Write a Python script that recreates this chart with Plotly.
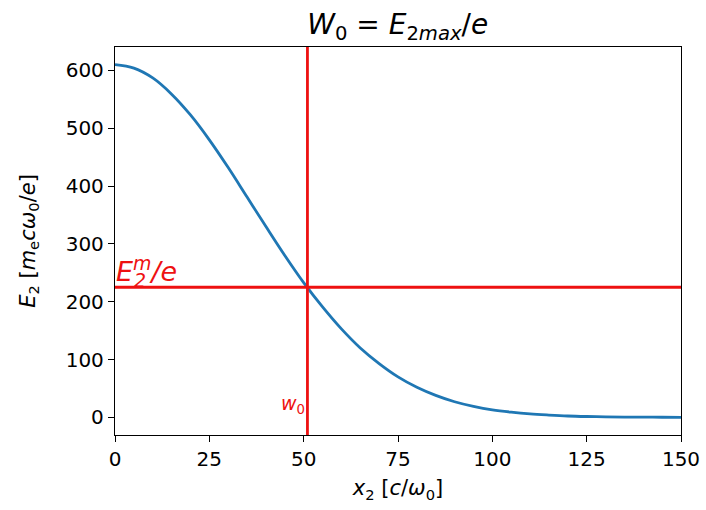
import plotly.graph_objects as go

x_vals = [0, 5, 10, 15, 20, 25, 30, 35, 40, 45, 50, 55, 60, 65, 70, 75, 80, 85, 90, 95,
          100, 105, 110, 115, 120, 125, 130, 135, 140, 145, 150]
e2_vals = [610, 604, 587, 559, 523, 480, 432, 381, 330, 280, 233, 191, 153, 120, 93, 70,
           52, 38, 27, 19, 13, 9, 6, 4, 2.4, 1.5, 0.9, 0.5, 0.3, 0.2, 0.1]
w0 = 51
e2m = 225
x_ticks = [0, 25, 50, 75, 100, 125, 150]
y_ticks = [0, 100, 200, 300, 400, 500, 600]

font = "DejaVu Sans"
red = "#ee1111"
fig = go.Figure()
fig.add_trace(go.Scatter(x=x_vals, y=e2_vals, mode="lines", line=dict(color="#1f77b4", width=2.8, shape="spline"),
                         showlegend=False, hoverinfo="skip"))
fig.add_trace(go.Scatter(x=[0, 150], y=[e2m, e2m], mode="lines", line=dict(color=red, width=2.8),
                         showlegend=False, hoverinfo="skip"))
fig.add_trace(go.Scatter(x=[w0, w0], y=[-30.5, 640.5], mode="lines", line=dict(color=red, width=2.8),
                         showlegend=False, hoverinfo="skip"))

# E_2^m / e label (superscript m and subscript 2 stacked)
fig.add_annotation(x=0, y=e2m, xref="x", yref="y", xanchor="left", yanchor="bottom", showarrow=False,
                   text="<i>E</i><sup><i>m</i></sup><i>/e</i>",
                   font=dict(family=font, size=27, color=red), xshift=-1, yshift=-2)
fig.add_annotation(x=0, y=e2m, xref="x", yref="y", xanchor="left", yanchor="bottom", showarrow=False,
                   text="<i>2</i>", font=dict(family=font, size=19, color=red), xshift=17, yshift=-6)
fig.add_annotation(x=w0, y=0, xref="x", yref="y", xanchor="right", yanchor="bottom", showarrow=False,
                   text="<i>w</i><sub>0</sub>", font=dict(family=font, size=19, color=red), xshift=0, yshift=-2)

axis_common = dict(showline=True, linecolor="black", linewidth=1.3, mirror=True, ticks="outside",
                   ticklen=6, tickwidth=1.3, tickcolor="black", showgrid=False, zeroline=False,
                   tickfont=dict(family=font, size=20, color="black"))
fig.update_xaxes(range=[0, 150], tickvals=x_ticks,
                 title=dict(text="<i>x</i><sub>2</sub> [<i>c</i>/<i>ω</i><sub>0</sub>]",
                            font=dict(family=font, size=21, color="black"), standoff=10),
                 **axis_common)
fig.update_yaxes(range=[-30.5, 640.5], tickvals=y_ticks,
                 title=dict(text="<i>E</i><sub>2</sub> [<i>m</i><sub>e</sub><i>cω</i><sub>0</sub>/<i>e</i>]",
                            font=dict(family=font, size=21, color="black"), standoff=24),
                 **axis_common)
fig.update_layout(
    width=706, height=510, paper_bgcolor="white", plot_bgcolor="white",
    margin=dict(l=115, r=25, t=47, b=75, autoexpand=False),
    title=dict(text="<i>W</i><sub>0</sub> = <i>E</i><sub>2<i>max</i></sub>/<i>e</i>", x=0.5634, xanchor="center",
               y=0.953, yanchor="middle", font=dict(family=font, size=28, color="black")),
)
fig.write_html("out.html")
